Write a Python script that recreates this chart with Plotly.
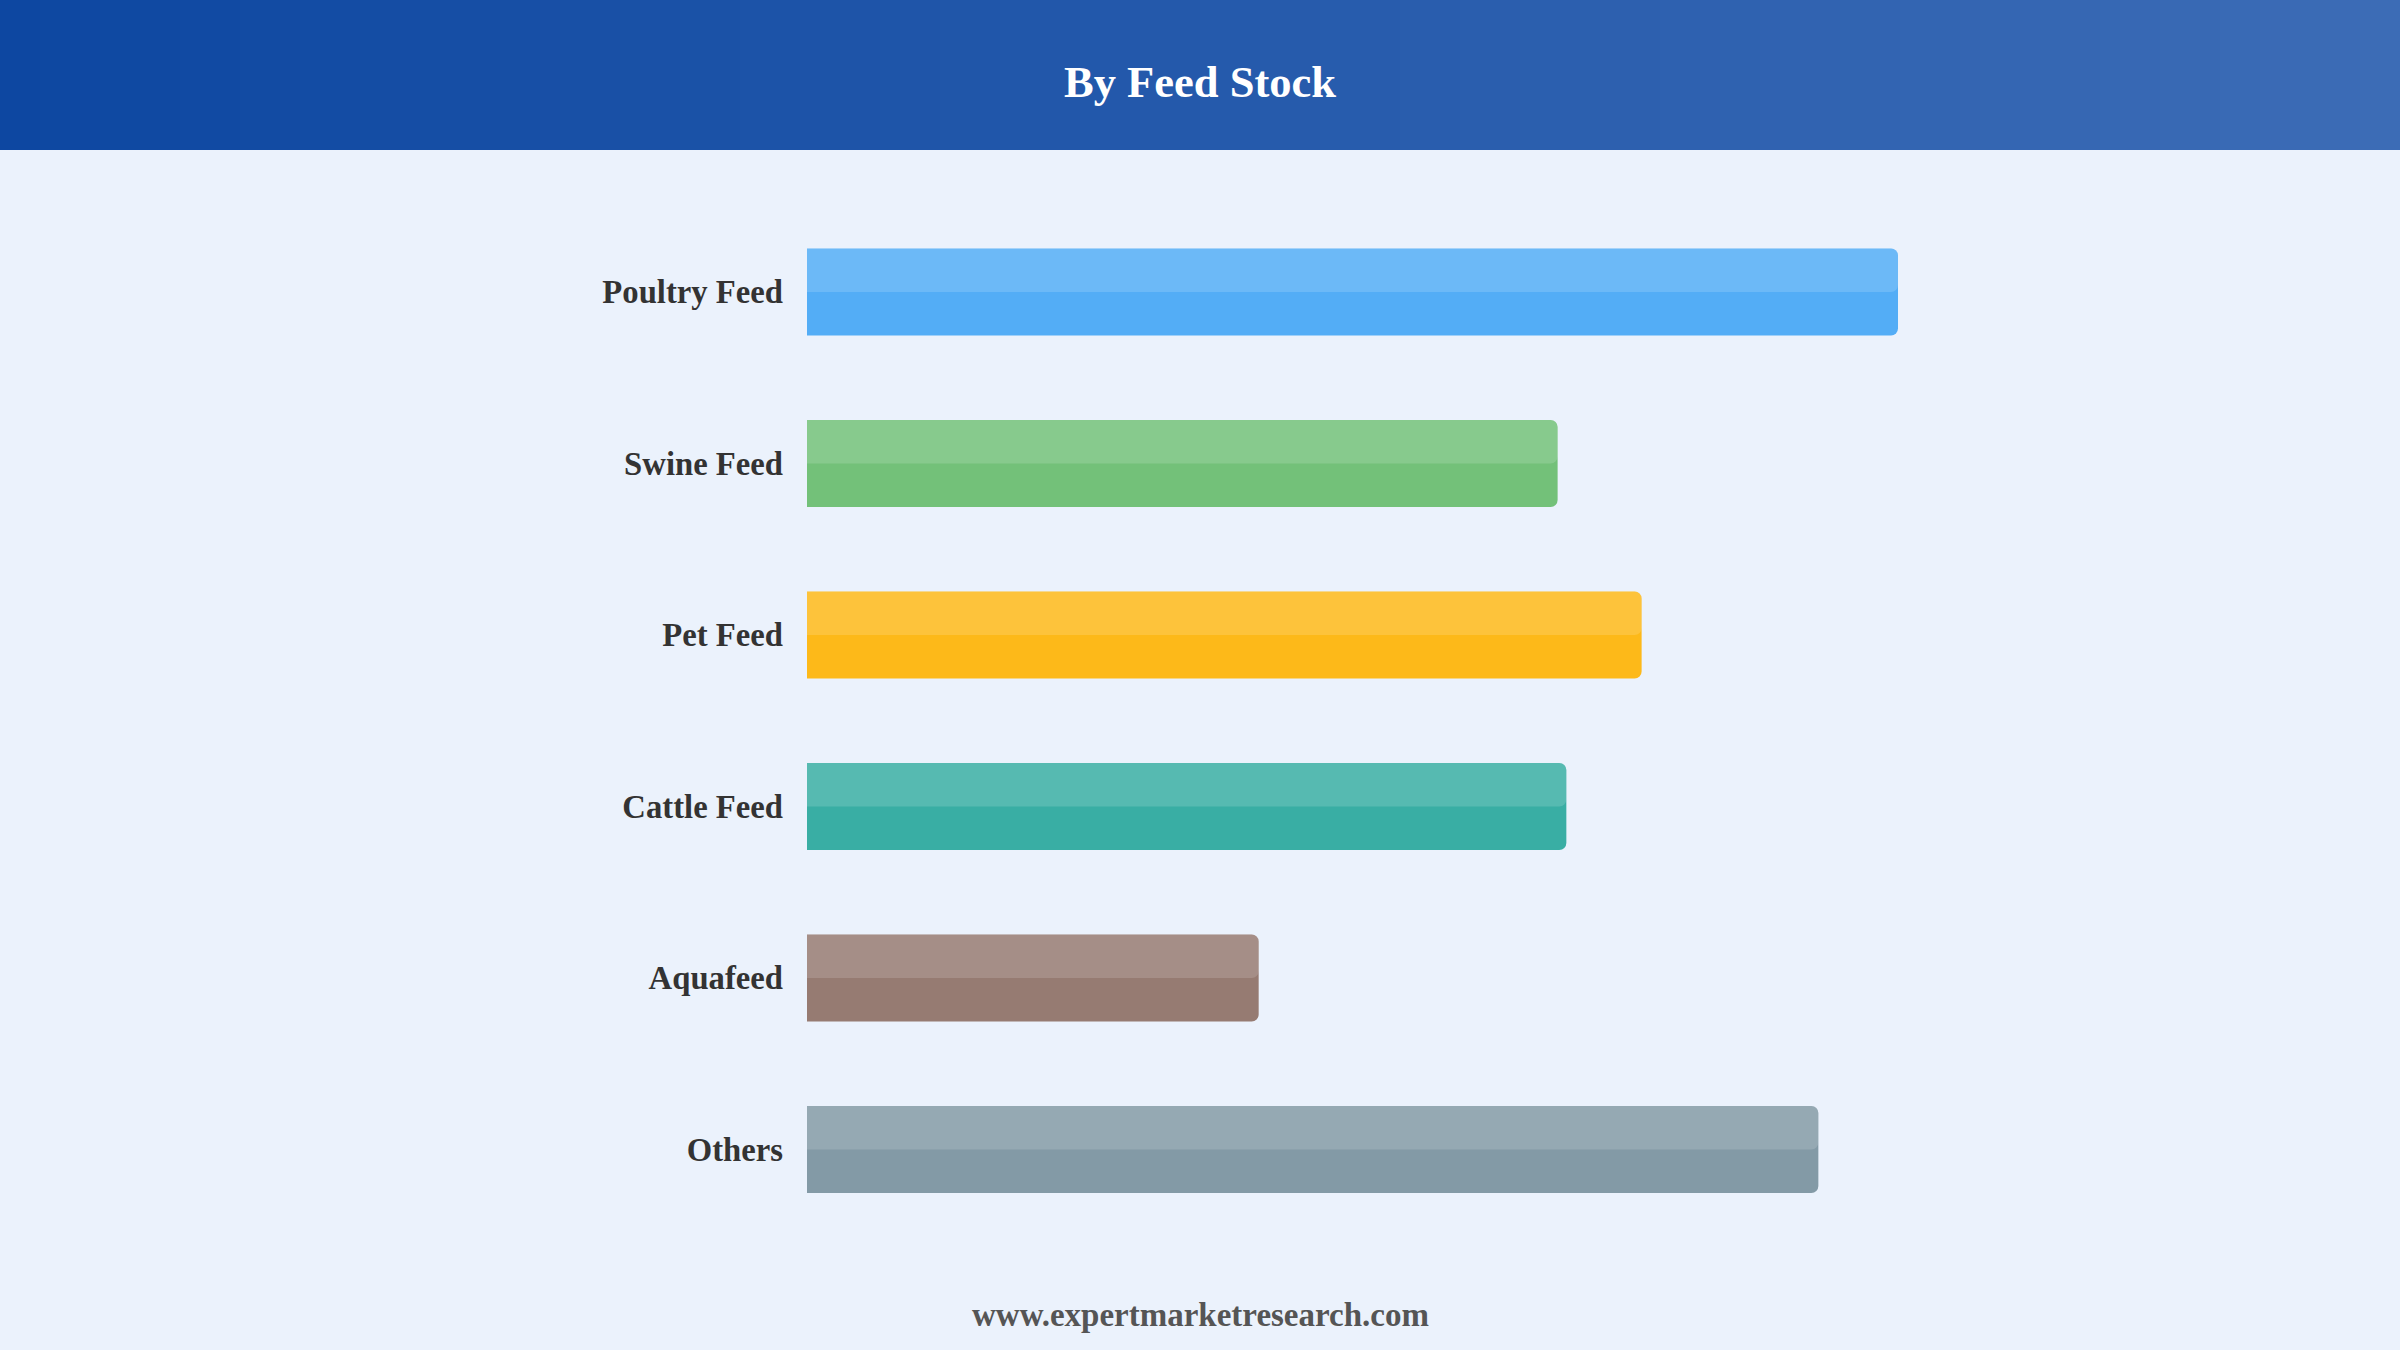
import plotly.graph_objects as go

# ---------------- data ----------------
categories = ["Poultry Feed", "Swine Feed", "Pet Feed", "Cattle Feed", "Aquafeed", "Others"]
values = [100.0, 68.8, 76.5, 69.6, 41.4, 92.7]
bar_colors = ["#42A5F5", "#66BB6A", "#FFB300", "#26A69A", "#8D6E63", "#78909C"]
title_text = "By Feed Stock"
source_text = "www.expertmarketresearch.com"

# ---------------- layout constants ----------------
W, H = 2400, 1350
ML, MR, MT, MB = 807, 502, 150, 100
PW, PH = W - ML - MR, H - MT - MB
SERIF = "Liberation Serif, Times New Roman, serif"
BG = "#EBF2FC"
BAR_W = 0.507


def px_to_paper_x(px):
    return (px - ML) / PW


def py_to_paper_y(py):
    return (H - MB - py) / PH


fig = go.Figure()

fig.add_trace(go.Bar(
    orientation="h", x=values, y=categories,
    width=BAR_W, offset=-BAR_W / 2,
    marker=dict(color=bar_colors, opacity=0.9, cornerradius=7, line=dict(width=0)),
    hoverinfo="skip", showlegend=False,
))
fig.add_trace(go.Bar(
    orientation="h", x=values, y=categories,
    width=BAR_W / 2, offset=-BAR_W / 2,
    marker=dict(color="rgba(255,255,255,0.15)", cornerradius=7, line=dict(width=0)),
    hoverinfo="skip", showlegend=False,
))

# header gradient made of thin strips
c0 = (13, 71, 161)
c1 = (60, 108, 182)
n = 120
shapes = []
for i in range(n):
    t = i / (n - 1)
    col = tuple(round(a + (b - a) * t) for a, b in zip(c0, c1))
    x0 = i * W / n
    x1 = (i + 1) * W / n + 1
    shapes.append(dict(
        type="rect", xref="paper", yref="paper",
        x0=px_to_paper_x(x0), x1=px_to_paper_x(x1),
        y0=py_to_paper_y(150), y1=py_to_paper_y(0),
        fillcolor="rgb(%d,%d,%d)" % col, line=dict(width=0), layer="below",
    ))

fig.update_layout(
    width=W, height=H,
    margin=dict(l=ML, r=MR, t=MT, b=MB),
    paper_bgcolor=BG, plot_bgcolor=BG,
    barmode="overlay",
    shapes=shapes,
    title=dict(
        text=title_text, x=0.5, xref="container", xanchor="center",
        y=1 - 81 / H, yref="container", yanchor="middle",
        font=dict(family=SERIF, size=44.5, color="white", weight="bold"),
    ),
    xaxis=dict(range=[0, 100], visible=False, showgrid=False, zeroline=False, fixedrange=True),
    yaxis=dict(
        type="category", categoryorder="array", categoryarray=categories,
        range=[5.586, -0.828], showgrid=False, zeroline=False, showline=False,
        ticks="", ticklabelstandoff=23,
        tickfont=dict(family=SERIF, size=32.7, color="#333333", weight="bold"),
        fixedrange=True,
    ),
    annotations=[dict(
        text=source_text, xref="paper", yref="paper",
        x=px_to_paper_x(1200), y=py_to_paper_y(1315),
        xanchor="center", yanchor="middle", showarrow=False,
        font=dict(family=SERIF, size=33, color="#555555", weight="bold"),
    )],
)

fig.write_html("out.html")
